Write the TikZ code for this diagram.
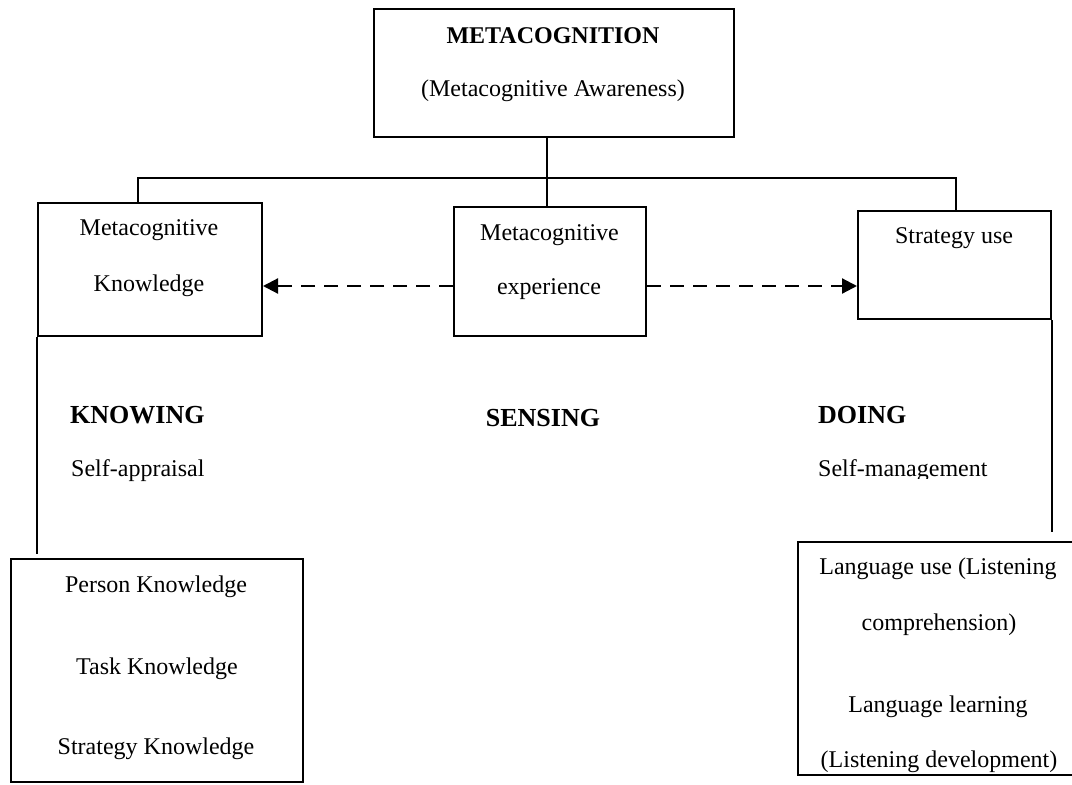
\documentclass[tikz,border=0pt]{standalone}
\usepackage{fontspec}
\setmainfont{Liberation Serif}
\usetikzlibrary{arrows.meta}
\tikzset{
  box/.style={draw, line width=2pt, inner sep=0pt, rectangle},
  txt/.style={inner sep=0pt, anchor=base, font=\fontsize{24}{28}\selectfont},
  txtl/.style={txt, anchor=base west},
  head/.style={inner sep=0pt, anchor=base, font=\fontsize{26}{30}\selectfont\bfseries},
  headl/.style={head, anchor=base west},
  link/.style={line width=2pt},
  dasharrow/.style={line width=2.2pt, dash pattern=on 14pt off 9pt,
    -{Triangle[length=15pt,width=15pt]}}
}
\begin{document}
\begin{tikzpicture}[x=1pt,y=-1pt]
\useasboundingbox (0,0) rectangle (1072,785);
\clip (0,0) rectangle (1072,785);
\fill[white] (0,0) rectangle (1072,785);

% boxes
\node[box, minimum width=360pt, minimum height=128pt] (top) at (554,73) {};
\node[box, minimum width=224pt, minimum height=133pt] (MK) at (150,269.5) {};
\node[box, minimum width=192pt, minimum height=129pt] (ME) at (550,271.5) {};
\node[box, minimum width=193pt, minimum height=108pt] (SU) at (954.5,265) {};
\node[box, minimum width=292pt, minimum height=223pt] (PK) at (157,670.5) {};
\node[box, minimum width=292pt, minimum height=233pt] (DO) at (944,658.5) {};

% texts inside the boxes
\node[txt, font=\fontsize{24}{28}\selectfont\bfseries] (t1) at (553,43) {METACOGNITION};
\node[txt] (t2) at (553,96) {(Metacognitive Awareness)};
\node[txt] (mk1) at (149,235) {Metacognitive};
\node[txt] (mk2) at (149,291) {Knowledge};
\node[txt] (me1) at (549.5,240) {Metacognitive};
\node[txt] (me2) at (549,294) {experience};
\node[txt] (su1) at (954,243) {Strategy use};
\node[txt] (pk1) at (156,592) {Person Knowledge};
\node[txt] (pk2) at (157,674) {Task Knowledge};
\node[txt] (pk3) at (156,754) {Strategy Knowledge};
\node[txt] (do1) at (938,574) {Language use (Listening};
\node[txt] (do2) at (939,630) {comprehension)};
\node[txt] (do3) at (938,712) {Language learning};
\node[txt] (do4) at (939,767) {(Listening development)};

% free labels
\node[headl] (know) at (70,423) {KNOWING};
\node[txtl] (appr) at (71,476) {Self-appraisal};
\node[head] (sens) at (543,426) {SENSING};
\node[headl] (doing) at (818,423) {DOING};
\begin{scope}
  \clip (800,440) rectangle (1000,478);
  \node[txtl] (mgmt) at (818,476) {Self-management};
\end{scope}

% tree connectors
\coordinate (hub) at (546.5,178);
\coordinate (bl) at (138,178);
\coordinate (br) at (956,178);
\coordinate (dashy) at (0,286);
\draw[link] (hub |- top.south) -- (hub |- ME.north);
\draw[link] (bl |- MK.north) -- (bl) -- (br) -- (br |- SU.north);
\draw[link] (MK.south west) -- ([yshift=4pt]MK.south west |- PK.north);
\draw[link] (SU.south east) -- ([yshift=9pt]SU.south east |- DO.north);

% dashed arrows from the experience box
\draw[dasharrow] (ME.west |- dashy) -- (MK.east |- dashy);
\draw[dasharrow] (ME.east |- dashy) -- (SU.west |- dashy);
\end{tikzpicture}
\end{document}
